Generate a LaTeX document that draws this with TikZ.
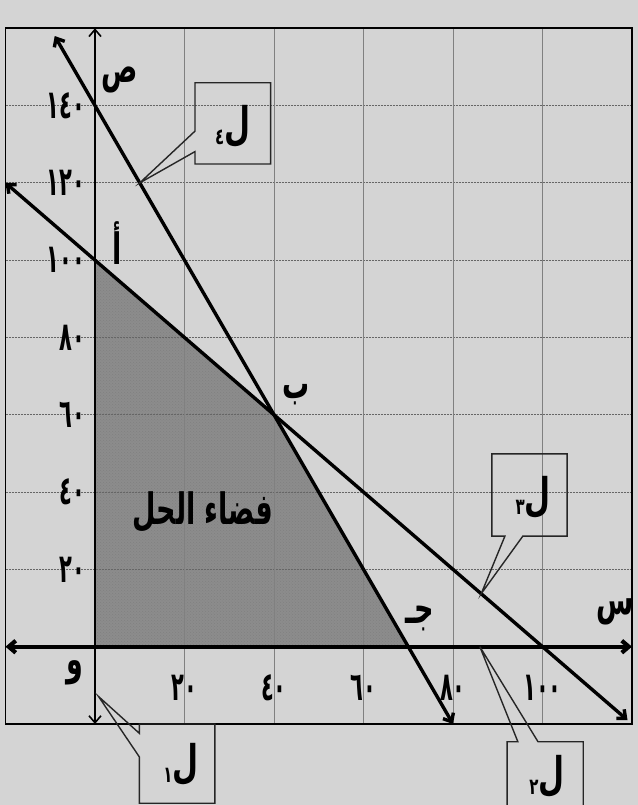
\documentclass[tikz,border=0pt]{standalone}
\usepackage{fontspec}
\usepackage{graphicx}
\usetikzlibrary{arrows.meta,patterns}
\newfontfamily\arabicfont[Script=Arabic]{DejaVu Sans}
\TeXXeTstate=1
\definecolor{paper}{RGB}{212,212,212}
\definecolor{region}{RGB}{140,140,140}
% Arabic labels, stretched upwards like the printed ones
\newcommand{\arnum}[1]{\scalebox{1}[1.9]{\arabicfont\bfseries\fontsize{21}{21}\selectfont #1}}
\newcommand{\arlet}[1]{\scalebox{1}[1.6]{\arabicfont\bfseries\fontsize{27}{27}\selectfont #1}}
\newcommand{\lineno}[1]{\scalebox{1}[1.5]{\arabicfont\bfseries\raisebox{-3pt}{\fontsize{15}{15}\selectfont #1}\fontsize{30}{30}\selectfont ل}}

\begin{document}
\begin{tikzpicture}[x=4.475pt,y=3.865pt,
  gridh/.style={draw=black!60,line width=0.8pt,dash pattern=on 2pt off 1pt},
  gridv/.style={draw=black!50,line width=0.7pt},
  barbs/.style={{Straight Barb[length=7pt,width=12pt]}-{Straight Barb[length=7pt,width=12pt]}},
  bigline/.style={barbs,line width=3.4pt},
  callout/.style={draw=black!85,line width=1.4pt,line join=miter},
  lbl/.style={inner sep=0pt}]

\fill[paper] (-21.23,-40.96) rectangle (121.34,167.32);
\useasboundingbox (-21.23,-40.96) rectangle (121.34,167.32);

\coordinate (O) at (0,0);
\coordinate (A) at (0,100);
\coordinate (B) at (40,60);
\coordinate (C) at (70,0);

% solution region
\fill[region] (O) -- (A) -- (B) -- (C) -- cycle;
\fill[pattern=crosshatch dots,pattern color=black!50] (O) -- (A) -- (B) -- (C) -- cycle;

% grid
\foreach \y in {20,40,...,140}
  \draw[gridh] (-20,\y) -- (120,\y);
\foreach \x in {20,40,...,100}
  \draw[gridv] (\x,-20) -- (\x,160);

\draw[line width=1.8pt] (-20,-20) rectangle (120,160);

% axes
\coordinate (xl) at (-20,0);
\coordinate (xr) at (120,0);
\coordinate (yb) at (0,-20);
\coordinate (yt) at (0,160);
\draw[barbs,line width=4.2pt] (xl) -- (xr);
\draw[barbs,line width=1.6pt] (yb) -- (yt);

% the two lines
\coordinate (l4a) at (-9,158);
\coordinate (l4b) at (80,-20);
\coordinate (l3a) at (-20,120);
\coordinate (l3b) at (119,-19);
\draw[bigline] (l4a) -- (l4b);
\draw[bigline] (l3a) -- (l3b);

% scale
\foreach \y/\t in {20/٢٠,40/٤٠,60/٦٠,80/٨٠,100/١٠٠,120/١٢٠,140/١٤٠}
  \node[lbl,anchor=east] (y\y) at (-2.2,\y) {\arnum{\t}};
\foreach \x/\t in {20/٢٠,40/٤٠,60/٦٠,80/٨٠,100/١٠٠}
  \node[lbl] (x\x) at (\x,-10.7) {\arnum{\t}};

% letters
\node[lbl] (o) at (-4.5,-6.8) {\arlet{و}};
\node[lbl] (ys) at (5.6,146.6) {\arlet{ص}};
\node[lbl] (xs) at (116.3,9) {\arlet{س}};
\node[lbl] (pa) at (4.9,104.4) {\arlet{أ}};
\node[lbl] (pb) at (44.9,65.1) {\arlet{ب}};
\node[lbl] (pc) at (72.6,7.2) {\arlet{\beginR جـ\endR}};
\node[lbl] (space) at (24.1,34.8) {\arlet{\beginR فضاء الحل\endR}};

% callouts
\coordinate (t4) at (10,120);
\coordinate (t3) at (86.3,13.7);
\coordinate (t2) at (86,0);
\coordinate (t1) at (0.8,-12.9);
\draw[callout] (22.35,145.9) -- (39.26,145.9) -- (39.26,124.9) -- (22.35,124.9)
  -- (22.35,128.1) -- (t4) -- (22.35,133.4) -- cycle;
\draw[callout] (88.7,28.6) -- (88.7,49.9) -- (105.5,49.9) -- (105.5,28.6)
  -- (95.6,28.6) -- (t3) -- (91.6,28.6) -- cycle;
\draw[callout] (92.1,-42) -- (92.1,-24.6) -- (94.5,-24.6) -- (t2)
  -- (99,-24.6) -- (109.1,-24.6) -- (109.1,-42);
\draw[callout] (9.9,-20) -- (26.8,-20) -- (26.8,-40.5) -- (9.9,-40.5)
  -- (9.9,-28.5) -- (t1) -- (9.9,-22.4) -- cycle;

\node[lbl] (L4) at (30.8,134.5) {\lineno{٤}};
\node[lbl] (L3) at (97.9,38.7) {\lineno{٣}};
\node[lbl] (L2) at (101,-33.6) {\lineno{٢}};
\node[lbl] (L1) at (19.2,-30.6) {\lineno{١}};

\end{tikzpicture}
\end{document}
